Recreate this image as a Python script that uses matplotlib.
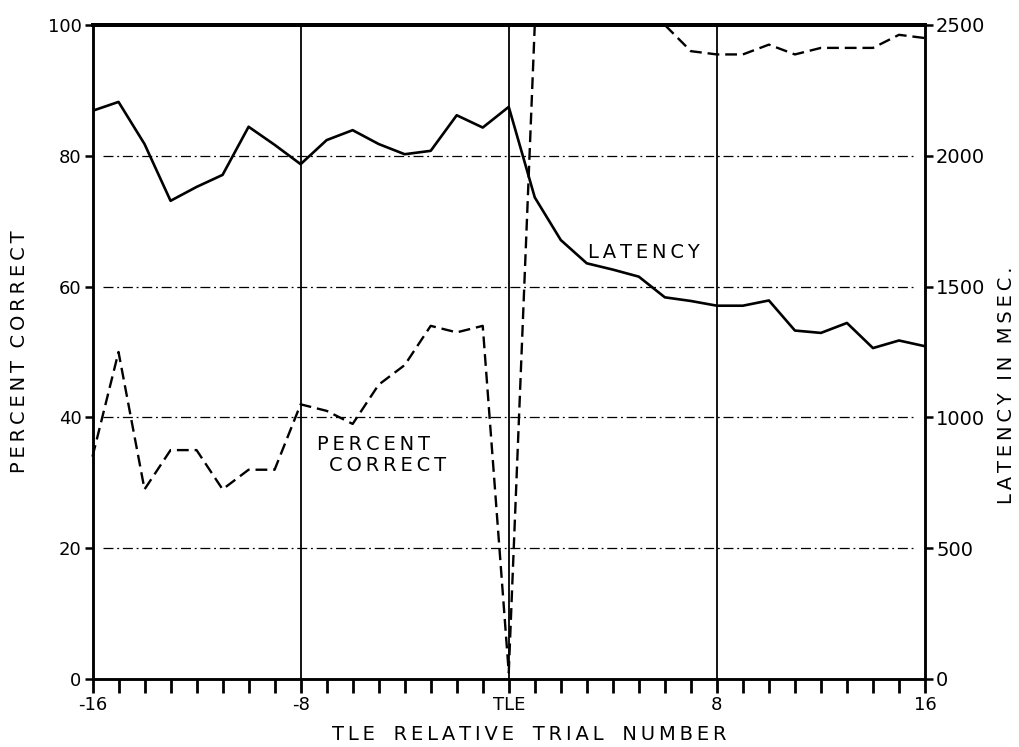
import numpy as np
import matplotlib
matplotlib.use("Agg")
import matplotlib.pyplot as plt

# trial numbers relative to TLE
trials = list(range(-16, 17))

# percent correct (dashed), left axis
pct_correct = [34, 50, 29, 35, 35, 29, 32, 32, 42, 41, 39, 45, 48, 54, 53, 54,
               1,
               100, 100, 100, 100, 100, 100, 96, 95.5, 95.5, 97, 95.5, 96.5, 96.5, 96.5, 98.5, 98]

# latency in msec (solid), right axis
latency = [2172, 2206, 2045, 1828, 1881, 1927, 2111, 2042, 1968, 2060, 2098, 2045, 2006, 2019, 2155, 2108,
           2187,
           1841, 1678, 1589, 1565, 1538, 1459, 1445, 1427, 1427, 1447, 1332, 1323, 1361, 1265, 1294, 1272]

pct_ticks = [0, 20, 40, 60, 80, 100]
lat_ticks = [0, 500, 1000, 1500, 2000, 2500]
x_labels = {-16: "-16", -8: "-8", 0: "TLE", 8: "8", 16: "16"}


def spaced(s, sp="\u2009"):
    # crude letter spacing, the original uses wide tracking
    return sp.join(s)


plt.rcParams['font.family'] = ['DejaVu Sans']

fig = plt.figure(figsize=(10.19, 7.47), dpi=100)
ax = fig.add_axes([92.5/1019, 1-679/747, (925-92.5)/1019, (679-25)/747])
ax2 = ax.twinx()

ax.set_xlim(-16, 16)
ax.set_ylim(0, 100)
ax2.set_ylim(0, 2500)

# grid: dash-dot horizontals, solid verticals at -8, TLE, 8
for y in [20, 40, 60, 80]:
    ax.plot([-15.6, 15.6], [y, y], color='black', lw=0.9, ls=(0, (8, 3, 1.5, 3)), zorder=1)
for x in [-8, 0, 8]:
    ax.axvline(x, color='black', lw=1.3, zorder=1)

ax.plot(trials, pct_correct, color='black', lw=1.7, ls=(0, (5, 2.5)), zorder=3, clip_on=False)
ax2.plot(trials, latency, color='black', lw=1.9, zorder=3)

ax.text(-5.2, 35.9, spaced("PERCENT"), fontsize=14, ha='center', va='center')
ax.text(-4.66, 32.7, spaced("CORRECT"), fontsize=14, ha='center', va='center')
ax.text(5.2, 65.2, spaced("LATENCY"), fontsize=14, ha='center', va='center')

# ticks
ax.set_xticks(trials)
ax.set_xticklabels([x_labels.get(t, "") for t in trials])
ax.set_yticks(pct_ticks)
ax.set_yticklabels([str(v) for v in pct_ticks])
ax2.set_yticks(lat_ticks)
ax2.set_yticklabels([str(v) for v in lat_ticks])

ax.tick_params(axis='x', direction='out', length=10, width=2, labelsize=13, pad=2)
ax.tick_params(axis='y', direction='out', length=6, width=1.8, labelsize=13, pad=2)
ax2.tick_params(axis='y', direction='out', length=6, width=1.8, labelsize=14, pad=2)

for a in (ax, ax2):
    for s in a.spines.values():
        s.set_linewidth(1.8)
    a.spines['top'].set_linewidth(2.8)

fig.text(20/1019, 1-352/747, spaced("PERCENT") + "  " + spaced("CORRECT"),
         rotation=90, fontsize=14, ha='center', va='center')
fig.text(1007/1019, 1-385/747, spaced("LATENCY") + "  " + spaced("IN") + "  " + spaced("MSEC."),
         rotation=90, fontsize=14, ha='center', va='center')
fig.text(529/1019, 1-735/747, spaced("TLE") + "   " + spaced("RELATIVE") + "   " + spaced("TRIAL") + "   " + spaced("NUMBER"),
         fontsize=14, ha='center', va='center')

fig.savefig("out.png", dpi=100)
